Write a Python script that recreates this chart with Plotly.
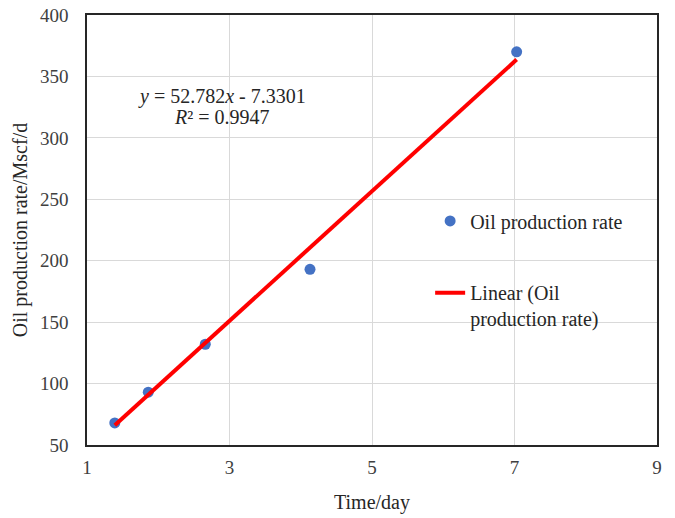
import plotly.graph_objects as go

time_day = [1.39, 1.86, 2.66, 4.13, 7.03]
oil_rate = [68, 93, 132, 193, 370]
slope = 52.782
intercept = -7.3301
r_squared = 0.9947

x_ticks = [1, 3, 5, 7, 9]
y_ticks = [50, 100, 150, 200, 250, 300, 350, 400]

font_family = "Liberation Serif, Times New Roman, serif"

x_fit = [min(time_day), max(time_day)]
y_fit = [slope * v + intercept for v in x_fit]

fig = go.Figure()
fig.add_trace(go.Scatter(
    x=time_day, y=oil_rate, mode="markers", name="Oil production rate",
    marker=dict(color="#4472C4", size=11), legend="legend"))
fig.add_trace(go.Scatter(
    x=x_fit, y=y_fit, mode="lines", name="Linear (Oil<br>production rate)",
    line=dict(color="#FF0000", width=4), legend="legend2"))

eq_font = dict(family=font_family, size=20, color="#262626")
fig.add_annotation(
    x=2.895, y=334, xref="x", yref="y", showarrow=False,
    text=f"<i>y</i> = {slope}<i>x</i> - {abs(intercept)}", font=eq_font)
fig.add_annotation(
    x=2.895, y=317, xref="x", yref="y", showarrow=False,
    text=f"<i>R</i>² = {r_squared}", font=eq_font)

axis_common = dict(
    showline=True, linecolor="#262626", linewidth=1.5, mirror=True,
    showgrid=True, gridcolor="#D9D9D9", gridwidth=1, zeroline=False,
    ticks="", automargin=False, ticklabeloverflow="allow",
    tickfont=dict(family=font_family, size=19, color="#404040"))

fig.update_layout(
    width=675, height=518,
    margin=dict(l=87, r=18, t=15, b=73),
    paper_bgcolor="white", plot_bgcolor="white",
    font=dict(family=font_family, size=20, color="#262626"),
    xaxis=dict(range=[1, 9], tickvals=x_ticks, ticklabelstandoff=4,
               title=dict(text="Time/day", font=dict(family=font_family, size=20, color="#262626"), standoff=18),
               **axis_common),
    yaxis=dict(range=[50, 400], tickvals=y_ticks, ticklabelstandoff=13,
               title=dict(text="Oil production rate/Mscf/d", font=dict(family=font_family, size=20, color="#262626"), standoff=7),
               **axis_common),
    legend=dict(x=0.602, y=0.521, xanchor="left", yanchor="middle",
                bgcolor="rgba(0,0,0,0)", font=dict(family=font_family, size=20, color="#262626")),
    legend2=dict(x=0.602, y=0.324, xanchor="left", yanchor="middle", valign="top",
                 bgcolor="rgba(0,0,0,0)", font=dict(family=font_family, size=20, color="#262626")),
    showlegend=True,
)

# remove the browser's default 8px body margin so the figure fills the window
fig.write_html("out.html", config={"displayModeBar": False},
               post_script="document.body.style.margin='0';")
